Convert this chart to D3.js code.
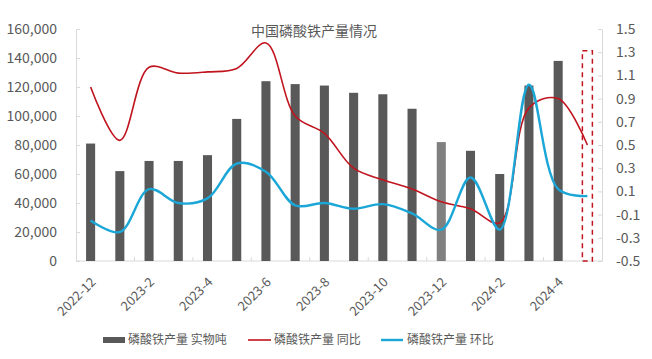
<!DOCTYPE html>
<html>
<head>
<meta charset="utf-8">
<script src="https://cdn.jsdelivr.net/npm/d3@7"></script>
<style>
  body { margin: 0; background: #fff; }
  text { font-family: "Noto Sans CJK SC", "Noto Sans", sans-serif; fill: #595959; }
</style>
</head>
<body>
<div id="chart"></div>
<script>
var months = ["2022-12","2023-1","2023-2","2023-3","2023-4","2023-5","2023-6","2023-7","2023-8",
              "2023-9","2023-10","2023-11","2023-12","2024-1","2024-2","2024-3","2024-4","2024-5"];
// 实物吨
var production = [81000, 62000, 69000, 69000, 73000, 98000, 124000, 122000, 121000,
                  116000, 115000, 105000, 82000, 76000, 60000, 121000, 138000, null];
// 同比
var yoy = [1.0, 0.54, 1.17, 1.12, 1.13, 1.16, 1.38, 0.75, 0.6, 0.3, 0.2, 0.12, 0.01, -0.05, -0.17, 0.82, 0.9, 0.5];
// 环比
var mom = [-0.15, -0.25, 0.12, 0.0, 0.04, 0.34, 0.27, -0.02, 0.0, -0.05, -0.01, -0.09, -0.23, 0.22, -0.23, 1.02, 0.12, 0.06];
var leftTicks = [0, 20000, 40000, 60000, 80000, 100000, 120000, 140000, 160000];
var rightTicks = [-0.5, -0.3, -0.1, 0.1, 0.3, 0.5, 0.7, 0.9, 1.1, 1.3, 1.5];
var xLabels = months.filter(function(d, i) { return i % 2 === 0 && i < 17; });
var highlightMonth = "2023-12";
var boxMonth = "2024-5";

var width = 652, height = 359;
var margin = {left: 76, right: 50, top: 29, bottom: 98};

var svg = d3.select("#chart").append("svg")
  .attr("width", width).attr("height", height);

var x = d3.scaleBand().domain(months).range([margin.left, width - margin.right]).padding(0);
var yL = d3.scaleLinear().domain([0, 160000]).range([height - margin.bottom, margin.top]);
var yR = d3.scaleLinear().domain([-0.5, 1.5]).range([height - margin.bottom, margin.top]);
var cx = function(d) { return x(d) + x.bandwidth() / 2; };
var barW = x.bandwidth() * 0.31;
var axisColor = "#d9d9d9";

// title
svg.append("text").attr("x", 314).attr("y", 36).attr("text-anchor", "middle")
  .style("font-size", "14px").text("中国磷酸铁产量情况");

// left axis
var gl = svg.append("g").attr("transform", "translate(" + margin.left + ",0)")
  .call(d3.axisLeft(yL).tickValues(leftTicks).tickFormat(d3.format(",")).tickSizeInner(-4).tickSizeOuter(0).tickPadding(19));
gl.select(".domain").attr("stroke", axisColor);
gl.selectAll(".tick line").attr("stroke", axisColor);
gl.selectAll("text").style("font-size", "14px").style("fill", "#595959").attr("font-family", null);

// right axis
var gr = svg.append("g").attr("transform", "translate(" + (width - margin.right) + ",0)")
  .call(d3.axisRight(yR).tickValues(rightTicks).tickFormat(d3.format(".1f")).tickSizeInner(-4).tickSizeOuter(0).tickPadding(14));
gr.select(".domain").attr("stroke", axisColor);
gr.selectAll(".tick line").attr("stroke", axisColor);
gr.selectAll("text").style("font-size", "14px").style("fill", "#595959").attr("font-family", null)
  .text(function(d) { return d3.format(".1f")(d).replace("−", "-"); });

// x axis
var baseY = height - margin.bottom;
svg.append("line").attr("x1", margin.left).attr("x2", width - margin.right)
  .attr("y1", baseY).attr("y2", baseY).attr("stroke", axisColor);
svg.selectAll(".xtick").data(months.filter(function(d, i) { return i % 2 === 0 && i > 0; }))
  .enter().append("line").attr("class", "xtick")
  .attr("x1", function(d) { return x(d); }).attr("x2", function(d) { return x(d); })
  .attr("y1", baseY).attr("y2", baseY - 4).attr("stroke", axisColor);
svg.selectAll(".xlabel").data(xLabels).enter().append("text").attr("class", "xlabel")
  .attr("text-anchor", "end").style("font-size", "13px")
  .attr("transform", function(d) { return "translate(" + (cx(d) + 6) + "," + (baseY + 22) + ") rotate(-45)"; })
  .text(function(d) { return d; });

// bars
svg.selectAll(".bar").data(months.map(function(m, i) { return {m: m, v: production[i]}; })
    .filter(function(d) { return d.v != null; }))
  .enter().append("rect").attr("class", "bar")
  .attr("x", function(d) { return cx(d.m) - barW / 2; })
  .attr("width", barW)
  .attr("y", function(d) { return yL(d.v); })
  .attr("height", function(d) { return yL(0) - yL(d.v); })
  .attr("fill", function(d) { return d.m === highlightMonth ? "#808080" : "#595959"; });

// lines
var line = function(vals) {
  return d3.line().curve(d3.curveCatmullRom.alpha(0.5))
    .x(function(d, i) { return cx(months[i]); })
    .y(function(d) { return yR(d); })(vals);
};
svg.append("path").attr("d", line(yoy)).attr("fill", "none")
  .attr("stroke", "#C0141E").attr("stroke-width", 1.6);
svg.append("path").attr("d", line(mom)).attr("fill", "none")
  .attr("stroke", "#1AA6D6").attr("stroke-width", 2.4);

// dashed box on last month
svg.append("rect")
  .attr("x", cx(boxMonth) - 5).attr("width", 10)
  .attr("y", yL(145000)).attr("height", yL(0) - yL(145000))
  .attr("fill", "none").attr("stroke", "#C0141E").attr("stroke-width", 1.5)
  .attr("stroke-dasharray", "5,4");

// legend
var lg = svg.append("g");
var ly = 340;
lg.append("rect").attr("x", 103).attr("y", ly - 3).attr("width", 22).attr("height", 6).attr("fill", "#595959");
lg.append("text").attr("x", 128).attr("y", ly + 4).style("font-size", "12px").text("磷酸铁产量 实物吨");
lg.append("line").attr("x1", 248).attr("x2", 271).attr("y1", ly).attr("y2", ly)
  .attr("stroke", "#C0141E").attr("stroke-width", 1.6);
lg.append("text").attr("x", 274).attr("y", ly + 4).style("font-size", "12px").text("磷酸铁产量 同比");
lg.append("line").attr("x1", 381).attr("x2", 403).attr("y1", ly).attr("y2", ly)
  .attr("stroke", "#1AA6D6").attr("stroke-width", 2.4);
lg.append("text").attr("x", 407).attr("y", ly + 4).style("font-size", "12px").text("磷酸铁产量 环比");
</script>
</body>
</html>
